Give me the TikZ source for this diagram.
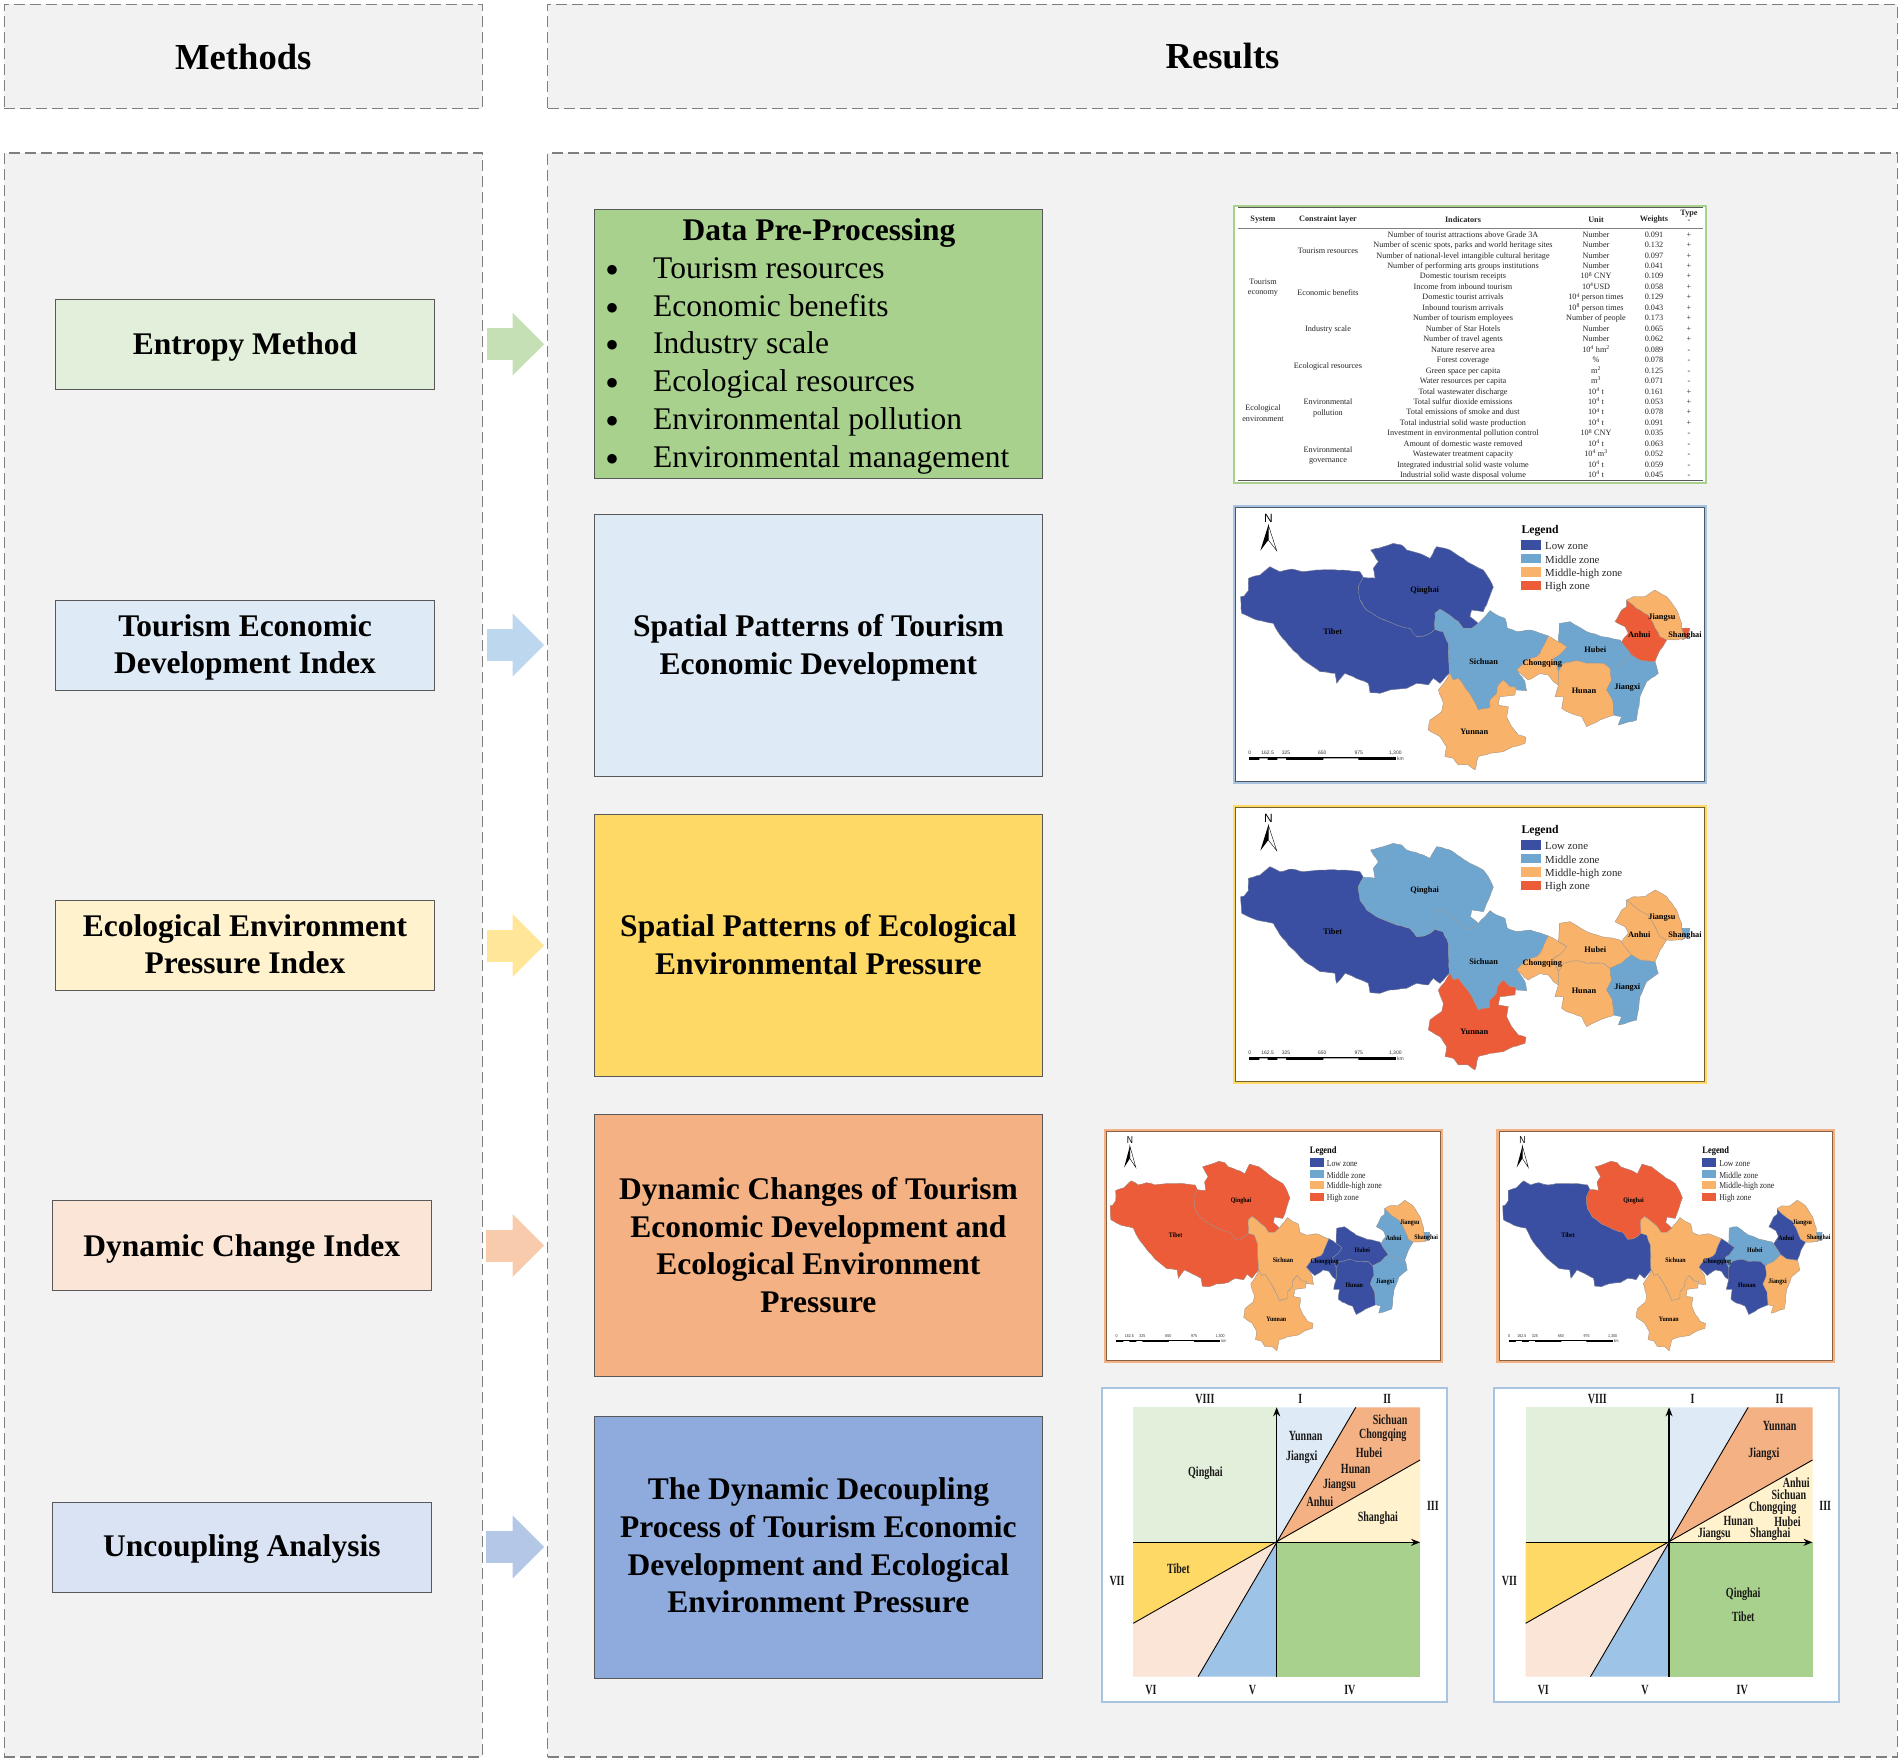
\documentclass[tikz,border=0pt]{standalone}
\usepackage{fontspec}
\usetikzlibrary{arrows.meta,decorations.pathmorphing}
\setmainfont{Liberation Serif}
\newfontfamily\serifnarrow[FakeStretch=.857]{Liberation Serif}
\newfontfamily\sansnarrow[FakeStretch=.857]{Liberation Sans}
\newfontfamily\sansplain{Liberation Sans}
\newfontfamily\diagserif[FakeStretch=.716]{Liberation Serif}
\definecolor{panelbg}{HTML}{F2F2F2}
\definecolor{panelln}{HTML}{7F7F7F}
\definecolor{boxln}{HTML}{595959}
\definecolor{cgreenL}{HTML}{E2EFDA}
\definecolor{cblueL}{HTML}{DEEAF6}
\definecolor{cyellowL}{HTML}{FFF2CC}
\definecolor{corangeL}{HTML}{FBE5D6}
\definecolor{cindigoL}{HTML}{DAE3F3}
\definecolor{cgreen}{HTML}{A9D18E}
\definecolor{cyellow}{HTML}{FFD966}
\definecolor{corange}{HTML}{F4B183}
\definecolor{cindigo}{HTML}{8FAADC}
\definecolor{csky}{HTML}{9DC3E6}
\definecolor{agreen}{HTML}{C5E0B4}
\definecolor{ablue}{HTML}{BDD7EE}
\definecolor{ayellow}{HTML}{FFE699}
\definecolor{aorange}{HTML}{F8CBAD}
\definecolor{aindigo}{HTML}{B4C7E7}
\definecolor{low}{HTML}{3A4FA1}
\definecolor{middle}{HTML}{6FA6CF}
\definecolor{midhigh}{HTML}{F8B26A}
\definecolor{high}{HTML}{EC5C38}
\definecolor{framegb}{HTML}{A9C3E3}
\tikzset{
 panel/.style={draw=panelln,fill=panelbg,line width=1.1pt,dash pattern=on 11pt off 5pt,inner sep=0pt},
 titletext/.style={font=\bfseries\fontsize{36.6}{44}\selectfont},
 bigtext/.style={font=\bfseries\fontsize{31.5}{37.8}\selectfont,align=center,text=black,inner sep=0pt},
 mbox/.style={draw=boxln,line width=.9pt,inner sep=0pt,minimum width=378.4pt,minimum height=90pt},
 rbox/.style={draw=boxln,line width=.9pt,inner sep=0pt,minimum width=448pt,minimum height=262pt},
 blockarrow/.style={line width=32pt,draw=#1,-{Triangle[length=31.6pt,width=61pt,fill=#1,color=#1]}},
 itemtext/.style={font=\fontsize{31.5}{37.8}\selectfont,inner sep=0pt,anchor=base west},
 bulletmark/.style={font=\fontsize{40}{40}\selectfont,inner sep=0pt,anchor=base},
 tabtext/.style={font=\fontsize{8.2}{10.46}\selectfont,inner sep=0pt,align=center,text=black!85},
 tabhead/.style={font=\bfseries\fontsize{8.2}{10.46}\selectfont,inner sep=0pt,text=black!85},
 tabrule/.style={draw=black!65,line width=.9pt},
 prov/.style={fill=#1,draw=black!40,line width=.3pt,decorate,decoration={random steps,segment length=4.5pt,amplitude=.55pt}},
 maplab/.style={font=\mapser\bfseries\fontsize{\szlab}{\szlab}\selectfont,inner sep=0pt,text=black,yshift=-1.2pt},
 leghead/.style={font=\mapser\bfseries\fontsize{\szhead}{\szhead}\selectfont,inner sep=0pt,anchor=west,yshift=-1.2pt},
 legitem/.style={font=\mapser\fontsize{\szleg}{\szleg}\selectfont,inner sep=0pt,anchor=west,text=black!85,yshift=-1.2pt},
 northlab/.style={font=\mapsan\fontsize{\szn}{\szn}\selectfont,inner sep=0pt},
 barlab/.style={font=\mapsan\fontsize{\szbar}{\szbar}\selectfont,inner sep=0pt,text=black!80},
 diaglab/.style={font=\diagserif\bfseries\fontsize{14}{14}\selectfont,inner sep=0pt,text=black!90,yshift=-1.2pt},
 axis/.style={line width=1.4pt,-{Stealth[length=9pt,width=7pt]}},
 wedge/.style={line width=.9pt,black},
 diagframe/.style={fill=white,draw=framegb,line width=1.8pt},
}
% ---------- provinces, in one local coordinate system
\def\pTibet{(62,290)--(72,288)--(85,272)--(85,235)--(120,225)--(135,212)--(150,200)--(180,215)--(215,207)--(250,215)--(300,210)--(370,210)--(420,215)--(430,232)--(415,260)--(420,300)--(440,330)--(480,355)--(530,375)--(570,385)--(590,410)--(612,408)--(630,400)--(645,388)--(670,395)--(685,430)--(688,520)--(660,550)--(640,535)--(625,555)--(590,550)--(560,565)--(510,570)--(480,580)--(450,578)--(445,550)--(400,530)--(375,520)--(350,550)--(345,520)--(300,515)--(250,480)--(215,445)--(180,405)--(160,370)--(110,360)--(65,340)--cycle}
\def\pQinghai{(452,150)--(490,140)--(520,130)--(545,135)--(560,150)--(610,165)--(630,175)--(650,140)--(690,150)--(720,170)--(750,190)--(790,210)--(810,240)--(820,262)--(805,300)--(790,335)--(755,330)--(750,350)--(775,370)--(755,385)--(730,385)--(715,365)--(680,340)--(660,328)--(645,340)--(645,388)--(630,400)--(612,408)--(590,410)--(570,385)--(530,375)--(480,355)--(440,330)--(420,300)--(415,260)--(430,232)--(465,235)--(460,205)--(475,185)--cycle}
\def\pSichuan{(645,388)--(645,340)--(660,328)--(680,340)--(715,365)--(730,385)--(755,385)--(775,370)--(795,350)--(810,332)--(830,345)--(855,355)--(862,385)--(890,395)--(930,390)--(985,408)--(960,460)--(950,470)--(920,480)--(890,510)--(915,545)--(920,572)--(890,570)--(888,560)--(870,560)--(850,540)--(832,560)--(830,580)--(810,600)--(810,622)--(775,630)--(760,600)--(745,575)--(715,535)--(700,540)--(690,520)--(688,520)--(685,430)--(670,395)--cycle}
\def\pYunnan{(690,520)--(700,540)--(715,535)--(745,575)--(760,600)--(775,630)--(810,622)--(810,600)--(830,580)--(832,560)--(850,540)--(870,560)--(888,562)--(885,585)--(840,590)--(835,615)--(865,620)--(860,650)--(875,680)--(895,705)--(918,712)--(915,730)--(880,740)--(850,755)--(810,760)--(775,770)--(765,810)--(745,795)--(715,795)--(700,775)--(675,770)--(680,740)--(660,710)--(625,690)--(630,660)--(665,635)--(670,610)--(655,570)--(675,545)--cycle}
\def\pChongqing{(985,408)--(1015,425)--(1040,440)--(1018,465)--(1000,475)--(1015,515)--(1015,555)--(1000,545)--(985,525)--(960,520)--(925,540)--(890,510)--(920,480)--(950,470)--(960,460)--cycle}
\def\pHubei{(1018,370)--(1050,365)--(1075,380)--(1100,395)--(1145,410)--(1200,420)--(1235,465)--(1205,490)--(1170,505)--(1150,490)--(1100,490)--(1070,482)--(1030,490)--(1015,515)--(1000,475)--(1018,465)--(1040,440)--(1015,425)--cycle}
\def\pHunan{(1070,482)--(1100,490)--(1150,490)--(1170,505)--(1175,540)--(1160,570)--(1178,600)--(1182,645)--(1140,660)--(1100,680)--(1085,650)--(1040,635)--(1025,625)--(1030,590)--(1005,590)--(1015,555)--(1015,515)--(1030,490)--cycle}
\def\pJiangxi{(1170,505)--(1205,490)--(1235,465)--(1260,480)--(1305,485)--(1315,520)--(1280,545)--(1260,590)--(1250,660)--(1195,675)--(1205,650)--(1182,645)--(1178,600)--(1160,570)--(1175,540)--cycle}
\def\pAnhui{(1220,300)--(1250,325)--(1285,345)--(1300,370)--(1320,410)--(1340,420)--(1320,450)--(1305,485)--(1260,480)--(1235,465)--(1205,425)--(1225,400)--(1215,380)--(1185,365)--(1205,330)--(1220,320)--cycle}
\def\pJiangsu{(1220,300)--(1240,290)--(1275,290)--(1305,270)--(1340,290)--(1370,330)--(1385,370)--(1385,385)--(1395,415)--(1370,420)--(1340,420)--(1320,410)--(1300,370)--(1285,345)--(1250,325)--cycle}
\def\pShanghai{(1385,385)--(1410,385)--(1405,410)--(1385,420)--(1395,415)--cycle}
\newcommand\mapcolA[9]{\colorlet{cT}{#1}\colorlet{cQ}{#2}\colorlet{cS}{#3}\colorlet{cY}{#4}\colorlet{cC}{#5}\colorlet{cHb}{#6}\colorlet{cHn}{#7}\colorlet{cJx}{#8}\colorlet{cAh}{#9}}
\newcommand\mapcolB[2]{\colorlet{cJs}{#1}\colorlet{cSh}{#2}}
\newcommand\mapbig{\let\mapser\rmfamily\let\mapsan\sansplain\def\szlab{8.3}\def\szhead{11.7}\def\szleg{10.8}\def\szn{12}\def\szbar{5}}
\newcommand\mapsmall{\let\mapser\serifnarrow\let\mapsan\sansnarrow\def\szlab{6.9}\def\szhead{9.8}\def\szleg{9}\def\szn{10}\def\szbar{4.2}}
% #1 prefix, #2 #3 shift, #4 #5 units, #6 outer frame, #7 inner frame
\newcommand\mapfig[7]{%
\begin{scope}[shift={(#2,#3)},x=#4pt,y=-#5pt,name prefix=#1-]
 \draw[fill=white,draw=#6,line width=3pt] (42,18) rectangle (1458,848);
 \draw[draw=#7,line width=.7pt] (46,22) rectangle (1454,844);
 \fill[cT] \pTibet; \fill[cQ] \pQinghai; \fill[cS] \pSichuan; \fill[cY] \pYunnan;
 \fill[cHb] \pHubei; \fill[cHn] \pHunan; \fill[cC] \pChongqing; \fill[cJx] \pJiangxi;
 \fill[cAh] \pAnhui; \fill[cJs] \pJiangsu; \fill[cSh] \pShanghai;
 \path[prov=cT] \pTibet;
 \path[prov=cQ] \pQinghai;
 \path[prov=cS] \pSichuan;
 \path[prov=cY] \pYunnan;
 \path[prov=cHb] \pHubei;
 \path[prov=cHn] \pHunan;
 \path[prov=cC] \pChongqing;
 \path[prov=cJx] \pJiangxi;
 \path[prov=cAh] \pAnhui;
 \path[prov=cJs] \pJiangsu;
 \path[prov=cSh] \pShanghai;
 \node[maplab] (qh) at (614,267) {Qinghai};
 \node[maplab] (tb) at (338,390) {Tibet};
 \node[maplab] (sc) at (791,480) {Sichuan};
 \node[maplab] (cq) at (967,487) {Chongqing};
 \node[maplab] (hb) at (1126,444) {Hubei};
 \node[maplab] (hn) at (1092,570) {Hunan};
 \node[maplab] (jx) at (1222,560) {Jiangxi};
 \node[maplab] (yn) at (763,693) {Yunnan};
 \node[maplab] (ah) at (1258,400) {Anhui};
 \node[maplab] (js) at (1326,348) {Jiangsu};
 \node[maplab] (sh) at (1395,402) {Shanghai};
 \node[leghead] (lg) at (904,89) {Legend};
 \fill[low] (903,120) rectangle (964,149);
 \fill[middle] (903,161) rectangle (964,190);
 \fill[midhigh] (903,202) rectangle (964,231);
 \fill[high] (903,243) rectangle (964,271);
 \node[legitem] (l1) at (975,135) {Low zone};
 \node[legitem] (l2) at (975,176) {Middle zone};
 \node[legitem] (l3) at (975,217) {Middle-high zone};
 \node[legitem] (l4) at (975,258) {High zone};
 \node[northlab] (nn) at (145,54) {N};
 \fill[black] (145,75)--(121,152)--(145,120)--cycle;
 \draw[black,line width=.4pt,fill=white] (145,75)--(170,152)--(145,120)--cycle;
 \fill[black] (88,770) rectangle (527,780);
 \fill[white] (118,775) rectangle (143,780) (172,775) rectangle (198,780) (310,775) rectangle (415,780);
 \node[barlab] (b0) at (89,758) {0};
 \node[barlab] (b1) at (143,758) {162.5};
 \node[barlab] (b2) at (198,758) {325};
 \node[barlab] (b3) at (307,758) {650};
 \node[barlab] (b4) at (416,758) {975};
 \node[barlab] (b5) at (526,758) {1,300};
 \node[barlab] (b6) at (541,775) {km};
\end{scope}}
% ---------- decoupling diagram; #1 prefix, #2 shift x
\newcommand\decoupling[3]{%
\begin{scope}[shift={(#2,1380)},x=.4912pt,y=-.3333pt,name prefix=#1-]
 \draw[diagframe] (24,24) rectangle (726,966);
 \fill[cgreenL] (88,82) rectangle (380,487);
 \fill[cblueL] (380,82)--(541,82)--(380,487)--cycle;
 \fill[corange] (541,82)--(672,82)--(672,240)--(380,487)--cycle;
 \fill[cyellowL] (672,240)--(672,487)--(380,487)--cycle;
 \fill[cgreen] (380,487) rectangle (672,890);
 \fill[csky] (380,487)--(380,890)--(220,890)--cycle;
 \fill[corangeL] (88,730)--(380,487)--(220,890)--(88,890)--cycle;
 \fill[cyellow] (88,487)--(380,487)--(88,730)--cycle;
 \coordinate (wa) at (541,82); \coordinate (wb) at (220,890);
 \coordinate (wc) at (672,240); \coordinate (wd) at (88,730);
 \coordinate (xa) at (88,487); \coordinate (xb) at (672,487);
 \coordinate (ya) at (380,890); \coordinate (yb) at (380,82);
 \draw[wedge] (wa)--(wb);
 \draw[wedge] (wc)--(wd);
 \draw[axis] (xa)--(xb);
 \draw[axis] (ya)--(yb);
 \node[diaglab] (z8) at (234,54) {VIII};
 \node[diaglab] (z1) at (428,54) {I};
 \node[diaglab] (z2) at (605,54) {II};
 \node[diaglab] (z3) at (698,373) {III};
 \node[diaglab] (z4) at (529,927) {IV};
 \node[diaglab] (z5) at (331,927) {V};
 \node[diaglab] (z6) at (124,927) {VI};
 \node[diaglab] (z7) at (55,600) {VII};
 #3
\end{scope}}
\begin{document}
\begin{tikzpicture}[x=1pt,y=-1pt]
\pgfmathsetseed{7}
\useasboundingbox (0,0) rectangle (1902,1761);
% panels
\node[panel,titletext,minimum width=478pt,minimum height=104.4pt] (methods) at (243.3,56.5) {Methods};
\node[panel,titletext,minimum width=1349.7pt,minimum height=104.4pt] (results) at (1222.5,56.5) {Results};
\node[panel,minimum width=478pt,minimum height=1604pt] (mpanel) at (243.3,955) {};
\node[panel,minimum width=1349.7pt,minimum height=1604pt] (rpanel) at (1222.5,955) {};
% method boxes
\node[mbox,fill=cgreenL] (m1) at (245,344.2) {};
\node[mbox,fill=cblueL] (m2) at (245,645) {};
\node[mbox,fill=cyellowL] (m3) at (245,945.5) {};
\node[mbox,fill=corangeL] (m4) at (241.8,1245.5) {};
\node[mbox,fill=cindigoL] (m5) at (241.8,1547) {};
\node[bigtext] (m1t) at (245,346.6) {Entropy Method};
\node[bigtext] (m2t) at (245,647.4) {Tourism Economic\\Development Index};
\node[bigtext] (m3t) at (245,944.3) {Ecological Environment\\Pressure Index};
\node[bigtext] (m4t) at (241.8,1249.1) {Dynamic Change Index};
\node[bigtext] (m5t) at (241.8,1549.4) {Uncoupling Analysis};
% result boxes
\node[rbox,fill=cgreen,minimum height=269.4pt] (r1) at (818.4,344.2) {};
\node[rbox,fill=cblueL] (r2) at (818.4,645) {};
\node[rbox,fill=cyellow] (r3) at (818.4,945.5) {};
\node[rbox,fill=corange] (r4) at (818.4,1245.5) {};
\node[rbox,fill=cindigo] (r5) at (818.4,1547) {};
\node[bigtext] (r2t) at (818.4,647.4) {Spatial Patterns of Tourism\\Economic Development};
\node[bigtext] (r3t) at (818.4,944.3) {Spatial Patterns of Ecological\\Environmental Pressure};
\node[bigtext] (r4t) at (818.4,1245) {Dynamic Changes of Tourism\\Economic Development and\\Ecological Environment\\Pressure};
\node[bigtext] (r5t) at (818.4,1545.4) {The Dynamic Decoupling\\Process of Tourism Economic\\Development and Ecological\\Environment Pressure};
% data pre-processing text
\node[bigtext,anchor=base] (dp) at (819,240) {Data Pre-Processing};
\foreach \txt [count=\i] in {Tourism resources,Economic benefits,Industry scale,Ecological resources,Environmental pollution,Environmental management}{
 \node[bulletmark] (bu\i) at (612,{283.3+37.8*(\i-1)}) {•};
 \node[itemtext] (it\i) at (653,{278.3+37.8*(\i-1)}) {\txt};
}
% arrows
\draw[blockarrow=agreen,shorten <=52pt,shorten >=49.8pt] (m1.east)--(r1.west);
\draw[blockarrow=ablue,shorten <=52pt,shorten >=49.8pt] (m2.east)--(r2.west);
\draw[blockarrow=ayellow,shorten <=52pt,shorten >=49.8pt] (m3.east)--(r3.west);
\draw[blockarrow=aorange,shorten <=55pt,shorten >=49.8pt] (m4.east)--(r4.west);
\draw[blockarrow=aindigo,shorten <=55pt,shorten >=49.8pt] (m5.east)--(r5.west);
% table
\draw[fill=white,draw=cgreen,line width=2pt] (1234,205.5) rectangle (1706,483);
\coordinate (ra) at (1238,207.5); \coordinate (rb) at (1703,207.5);
\coordinate (rc) at (1238,228.5); \coordinate (rd) at (1703,228.5);
\coordinate (re) at (1238,480.7); \coordinate (rf) at (1703,480.7);
\draw[tabrule] (ra)--(rb);
\draw[tabrule,line width=1.2pt,draw=black!50] (rc)--(rd);
\draw[tabrule] (re)--(rf);
\node[tabhead] (h1) at (1263,219.2) {System};
\node[tabhead] (h2) at (1328,219.2) {Constraint layer};
\node[tabhead] (h3) at (1463,219.2) {Indicators};
\node[tabhead] (h4) at (1596,219.2) {Unit};
\node[tabhead] (h5) at (1654,219.2) {Weights};
\node[tabhead] (h6) at (1689,213.8) {Type};
\node[tabhead] (h7) at (1689,221) {-};
\node[tabtext] (s1) at (1263,287.9) {Tourism\\economy};
\node[tabtext] (s2) at (1263,413.4) {Ecological\\environment};
\node[tabtext] (c1) at (1328,251) {Tourism resources};
\node[tabtext] (c2) at (1328,292.7) {Economic benefits};
\node[tabtext] (c3) at (1328,329.7) {Industry scale};
\node[tabtext] (c4) at (1328,366.4) {Ecological resources};
\node[tabtext] (c5) at (1328,408.2) {Environmental\\pollution};
\node[tabtext] (c6) at (1328,455.4) {Environmental\\governance};
\foreach \ind/\un/\wt/\ty [count=\i] in {
 Number of tourist attractions above Grade 3A/Number/0.091/+,
 {Number of scenic spots, parks and world heritage sites}/Number/0.132/+,
 Number of national-level intangible cultural heritage/Number/0.097/+,
 Number of performing arts groups institutions/Number/0.041/+,
 Domestic tourism receipts/10\textsuperscript{8} CNY/0.109/+,
 Income from inbound tourism/10\textsuperscript{4}USD/0.058/+,
 Domestic tourist arrivals/10\textsuperscript{4} person times/0.129/+,
 Inbound tourism arrivals/10\textsuperscript{8} person times/0.043/+,
 Number of tourism employees/Number of people/0.173/+,
 Number of Star Hotels/Number/0.065/+,
 Number of travel agents/Number/0.062/+,
 Nature reserve area/10\textsuperscript{4} hm\textsuperscript{2}/0.089/-,
 Forest coverage/\%/0.078/-,
 Green space per capita/m\textsuperscript{2}/0.125/-,
 Water resources per capita/m\textsuperscript{3}/0.071/-,
 Total wastewater discharge/10\textsuperscript{4} t/0.161/+,
 Total sulfur dioxide emissions/10\textsuperscript{4} t/0.053/+,
 Total emissions of smoke and dust/10\textsuperscript{4} t/0.078/+,
 Total industrial solid waste production/10\textsuperscript{4} t/0.091/+,
 Investment in environmental pollution control/10\textsuperscript{8} CNY/0.035/-,
 Amount of domestic waste removed/10\textsuperscript{4} t/0.063/-,
 Wastewater treatment capacity/10\textsuperscript{4} m\textsuperscript{3}/0.052/-,
 Integrated industrial solid waste volume/10\textsuperscript{4} t/0.059/-,
 Industrial solid waste disposal volume/10\textsuperscript{4} t/0.045/-}{
 \node[tabtext,text height=5.5pt,text depth=1.8pt] (ti\i) at (1463,{235.3+10.46*(\i-1)}) {\ind};
 \node[tabtext,text height=5.5pt,text depth=1.8pt] (tu\i) at (1596,{235.3+10.46*(\i-1)}) {\un};
 \node[tabtext,text height=5.5pt,text depth=1.8pt] (tw\i) at (1654,{235.3+10.46*(\i-1)}) {\wt};
 \node[tabtext,text height=5.5pt,text depth=1.8pt] (tt\i) at (1689,{235.3+10.46*(\i-1)}) {\ty};
}
% maps
\mapbig
\mapcolA{low}{low}{middle}{midhigh}{midhigh}{middle}{midhigh}{middle}{high}\mapcolB{midhigh}{high}
\mapfig{ma}{1220}{500}{.3333}{.3333}{framegb}{black!55!framegb}
\mapcolA{low}{middle}{middle}{high}{midhigh}{midhigh}{midhigh}{middle}{midhigh}\mapcolB{midhigh}{middle}
\mapfig{mb}{1220}{800}{.3333}{.3333}{cyellow}{black!55!cyellow}
\mapsmall
\mapcolA{high}{high}{midhigh}{midhigh}{low}{low}{low}{middle}{middle}\mapcolB{midhigh}{middle}
\mapfig{mc}{1095.5}{1125}{.237}{.2787}{corange}{black!45!corange}
\mapcolA{low}{high}{midhigh}{midhigh}{low}{middle}{low}{midhigh}{low}\mapcolB{midhigh}{middle}
\mapfig{md}{1488}{1125}{.237}{.2787}{corange}{black!45!corange}
% decoupling diagrams
\decoupling{da}{1090}{
 \node[diaglab] (n1) at (235,277) {Qinghai};
 \node[diaglab] (n2) at (439,163) {Yunnan};
 \node[diaglab] (n3) at (431,227) {Jiangxi};
 \node[diaglab] (n4) at (611,115) {Sichuan};
 \node[diaglab] (n5) at (596,162) {Chongqing};
 \node[diaglab] (n6) at (568,216) {Hubei};
 \node[diaglab] (n7) at (541,262) {Hunan};
 \node[diaglab] (n8) at (508,312) {Jiangsu};
 \node[diaglab] (n9) at (468,363) {Anhui};
 \node[diaglab] (n10) at (586,412) {Shanghai};
 \node[diaglab] (n11) at (180,562) {Tibet};
}
\decoupling{db}{1482.4}{
 \node[diaglab] (n1) at (605,134) {Yunnan};
 \node[diaglab] (n2) at (573,220) {Jiangxi};
 \node[diaglab] (n3) at (639,306) {Anhui};
 \node[diaglab] (n4) at (624,342) {Sichuan};
 \node[diaglab] (n5) at (591,380) {Chongqing};
 \node[diaglab] (n6) at (521,420) {Hunan};
 \node[diaglab] (n7) at (621,422) {Hubei};
 \node[diaglab] (n8) at (472,460) {Jiangsu};
 \node[diaglab] (n9) at (586,460) {Shanghai};
 \node[diaglab] (n10) at (531,638) {Qinghai};
 \node[diaglab] (n11) at (531,707) {Tibet};
}
\end{tikzpicture}
\end{document}
